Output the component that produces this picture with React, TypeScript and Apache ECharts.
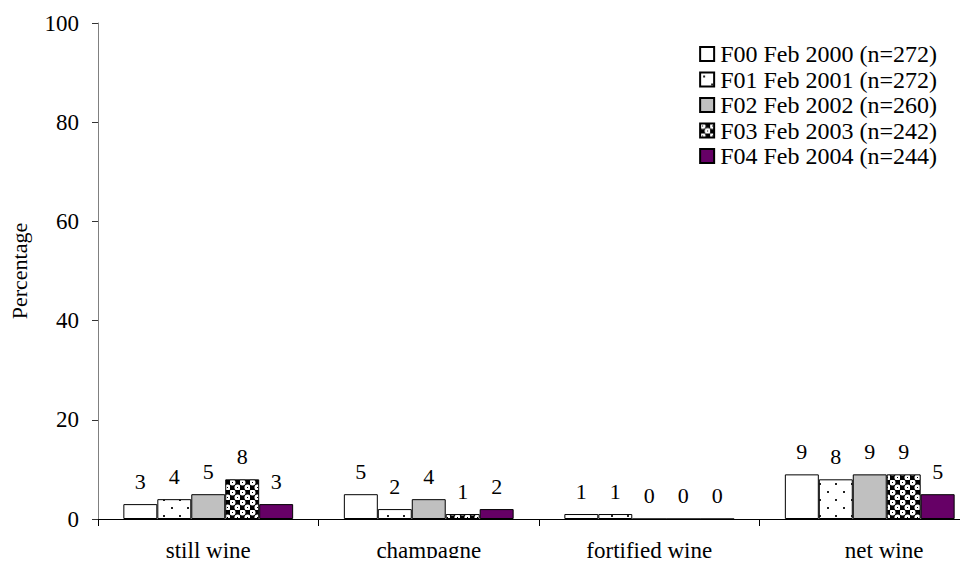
import React, { useEffect, useRef } from "react";
import * as echarts from "echarts";

const categories = ["still wine", "champagne", "fortified wine", "net wine"];
const seriesNames = [
  "F00 Feb 2000 (n=272)",
  "F01 Feb 2001 (n=272)",
  "F02 Feb 2002 (n=260)",
  "F03 Feb 2003 (n=242)",
  "F04 Feb 2004 (n=244)",
];
const f00 = [3, 5, 1, 9];
const f01 = [4, 2, 1, 8];
const f02 = [5, 4, 0, 9];
const f03 = [8, 1, 0, 9];
const f04 = [3, 2, 0, 5];
const yTicks = [0, 20, 40, 60, 80, 100];

const FONT = "'Liberation Serif', 'Times New Roman', serif";

function dotPattern(): HTMLCanvasElement {
  const c = document.createElement("canvas");
  c.width = 16;
  c.height = 16;
  const g = c.getContext("2d")!;
  g.fillStyle = "#fff";
  g.fillRect(0, 0, 16, 16);
  g.fillStyle = "#222";
  g.fillRect(3, 3, 2, 2);
  g.fillRect(11, 11, 2, 2);
  return c;
}

function confettiPattern(): HTMLCanvasElement {
  const c = document.createElement("canvas");
  c.width = 10;
  c.height = 10;
  const g = c.getContext("2d")!;
  g.fillStyle = "#000";
  g.fillRect(0, 0, 10, 10);
  g.fillStyle = "#fff";
  g.beginPath();
  g.arc(2.5, 2.5, 3, 0, Math.PI * 2);
  g.fill();
  g.beginPath();
  g.arc(7.5, 7.5, 3, 0, Math.PI * 2);
  g.fill();
  g.fillStyle = "#000";
  g.fillRect(2, 2, 1, 1);
  g.fillRect(7, 7, 1, 1);
  return c;
}

export default function App() {
  const ref = useRef<HTMLDivElement>(null);

  useEffect(() => {
    if (!ref.current) return;
    const chart = echarts.init(ref.current, undefined, { renderer: "svg" });
    const dots = dotPattern();
    const confetti = confettiPattern();
    const fills: any[] = [
      "#ffffff",
      { image: dots, repeat: "repeat", imageWidth: 16, imageHeight: 16 },
      "#c0c0c0",
      { image: confetti, repeat: "repeat", imageWidth: 10, imageHeight: 10 },
      "#660066",
    ];
    const values = [f00, f01, f02, f03, f04];

    chart.setOption({
      animation: false,
      backgroundColor: "#fff",
      textStyle: { fontFamily: FONT },
      grid: {
        left: 98,
        top: 23,
        height: 496,
        width: 882,
        containLabel: false,
        outerBoundsMode: "none",
      },
      legend: {
        orient: "vertical",
        right: 26,
        top: 37,
        itemWidth: 14,
        itemHeight: 14,
        itemGap: 1.5,
        icon: "rect",
        textStyle: { fontFamily: FONT, fontSize: 24, color: "#000", padding: [0, 0, 0, 1] },
        data: seriesNames,
      },
      xAxis: {
        type: "category",
        data: categories,
        axisLine: { lineStyle: { color: "#000", width: 1 } },
        axisTick: { show: true, interval: 0, length: 7, lineStyle: { color: "#000" } },
        axisLabel: {
          interval: 0,
          hideOverlap: false,
          fontFamily: FONT,
          fontSize: 23,
          color: "#000",
          margin: 20,
          // the last label sits a little right of its category centre
          formatter: (v: string) =>
            v === "net wine" ? "\u00a0\u00a0\u00a0\u00a0\u00a0" + v : v,
        },
      },
      yAxis: {
        type: "value",
        min: yTicks[0],
        max: yTicks[yTicks.length - 1],
        interval: 20,
        name: "Percentage",
        nameLocation: "middle",
        nameRotate: 90,
        nameGap: 68,
        nameTextStyle: { fontFamily: FONT, fontSize: 22, color: "#000" },
        axisLine: { show: true, lineStyle: { color: "#808080", width: 1 } },
        axisTick: { show: true, inside: false, length: 6, lineStyle: { color: "#333" } },
        axisLabel: { fontFamily: FONT, fontSize: 23, color: "#000", margin: 19 },
        splitLine: { show: false },
      },
      series: seriesNames.map((name, i) => ({
        name,
        type: "bar",
        data: values[i],
        barGap: "0%",
        barCategoryGap: "23%",
        itemStyle: { color: fills[i], borderColor: "#000", borderWidth: 1 },
        label: {
          show: true,
          position: "top",
          distance: 12,
          fontFamily: FONT,
          fontSize: 22,
          color: "#000",
        },
      })),
    });
    return () => chart.dispose();
  }, []);

  return <div ref={ref} style={{ width: 968, height: 566, margin: -8 }} />;
}
